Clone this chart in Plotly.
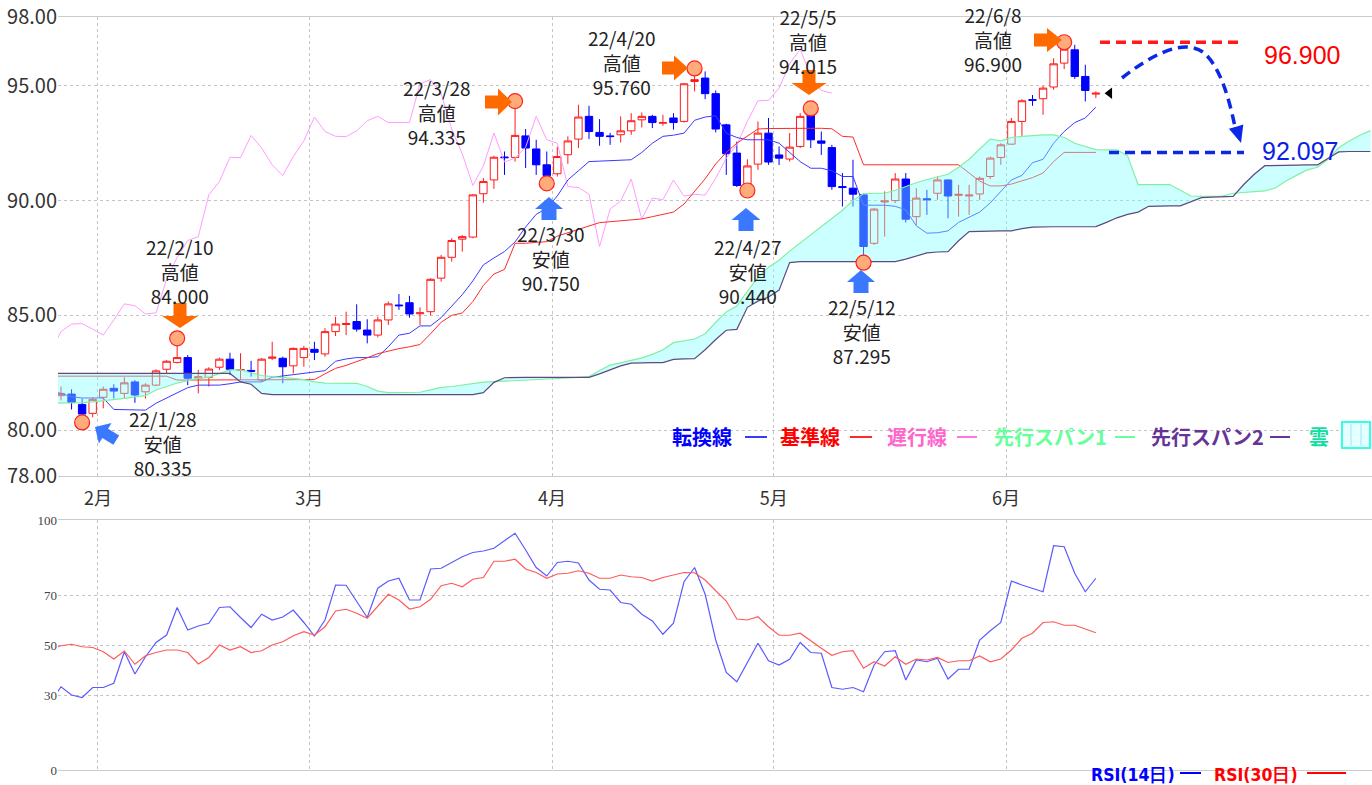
import math
import plotly.graph_objects as go

# ---------------- data ----------------
# trading-day index 0 = 2022-01-26 ... 98 = 2022-06-13
day_index = list(range(0, 99))

opens = [81.50, 81.57, 81.12, 80.73, 81.43, 81.82, 81.60, 82.10, 81.67, 81.96,
         82.65, 82.95, 83.16, 82.27, 82.30, 82.74, 83.09, 82.60, 82.60, 82.18,
         83.13, 83.13, 82.80, 83.16, 83.52, 83.32, 84.29, 84.60, 84.73, 84.36,
         84.14, 84.80, 85.45, 85.55, 85.07, 85.16, 86.62, 87.53, 88.32, 88.41,
         90.30, 90.90, 91.90, 91.88, 92.82, 92.25, 91.56, 91.17, 92.00, 92.68,
         93.67, 92.97, 92.82, 92.87, 93.04, 93.52, 93.67, 93.37, 93.60, 93.45,
         95.19, 95.34, 94.66, 93.30, 92.07, 90.64, 91.59, 92.94, 91.99, 91.81,
         92.36, 93.77, 92.60, 92.31, 90.61, 90.54, 90.25, 88.14, 89.94, 90.00,
         90.94, 89.30, 90.08, 90.32, 90.90, 90.23, 90.20, 90.29, 91.05, 91.88,
         92.46, 93.45, 94.40, 94.44, 94.95, 95.99, 96.57, 95.41, 94.64]
highs = [81.90, 81.78, 81.38, 81.43, 81.90, 82.00, 82.30, 82.18, 82.04, 82.65,
         83.05, 84.00, 83.27, 82.62, 82.74, 83.16, 83.37, 83.35, 83.02, 83.14,
         83.85, 83.20, 83.60, 83.67, 83.85, 84.44, 84.94, 85.16, 85.48, 84.83,
         84.94, 85.60, 85.93, 85.85, 85.35, 86.62, 87.63, 88.36, 88.50, 90.28,
         90.98, 91.95, 92.14, 94.335, 93.12, 92.65, 92.14, 92.35, 92.80, 94.18,
         94.13, 93.55, 92.95, 93.67, 93.81, 93.84, 93.74, 93.74, 93.81, 95.12,
         95.76, 95.63, 94.80, 93.35, 92.57, 91.80, 93.45, 93.60, 92.36, 92.94,
         93.81, 94.015, 93.01, 92.43, 91.20, 91.78, 90.30, 89.67, 90.40, 91.20,
         91.20, 90.54, 90.47, 91.05, 90.92, 90.69, 90.69, 91.05, 91.92, 92.50,
         93.60, 94.42, 94.60, 95.00, 96.20, 96.90, 96.79, 95.92, 94.76]
lows = [81.30, 80.90, 80.335, 80.56, 80.95, 81.38, 81.38, 81.19, 81.38, 81.92,
        82.47, 82.90, 81.96, 81.60, 81.90, 82.62, 82.40, 82.18, 82.33, 82.10,
        83.05, 82.04, 82.47, 82.76, 83.05, 83.20, 84.10, 84.14, 84.29, 83.78,
        84.04, 84.58, 85.24, 84.90, 84.58, 85.00, 86.47, 87.34, 87.78, 88.36,
        89.91, 90.51, 91.12, 91.70, 91.42, 91.12, 90.75, 91.05, 91.60, 92.29,
        92.68, 92.39, 92.43, 92.53, 92.87, 93.19, 93.16, 93.26, 93.09, 93.40,
        94.76, 94.42, 92.97, 91.12, 90.59, 90.44, 91.34, 91.56, 91.55, 91.70,
        92.29, 92.29, 91.99, 90.47, 89.74, 89.74, 87.295, 88.07, 88.43, 89.89,
        89.04, 88.94, 89.38, 90.03, 89.23, 89.30, 89.38, 90.03, 90.94, 91.56,
        92.43, 92.82, 94.13, 93.74, 94.83, 95.73, 95.30, 94.32, 94.47]
closes = [81.60, 81.20, 80.70, 81.34, 81.78, 81.70, 82.06, 81.53, 81.96, 82.58,
          83.00, 83.16, 82.26, 82.32, 82.66, 83.09, 82.65, 82.64, 82.56, 83.09,
          83.18, 82.76, 83.56, 83.56, 83.39, 84.29, 84.62, 84.64, 84.40, 84.14,
          84.80, 85.50, 85.42, 85.06, 85.11, 86.57, 87.53, 88.26, 88.43, 90.25,
          90.83, 91.89, 91.87, 92.84, 92.29, 91.56, 91.09, 91.92, 92.60, 93.64,
          93.01, 92.80, 92.79, 93.04, 93.48, 93.67, 93.40, 93.40, 93.40, 95.09,
          95.27, 94.66, 93.12, 92.04, 90.66, 91.51, 92.94, 91.68, 91.85, 92.33,
          93.67, 92.65, 92.50, 90.61, 90.57, 90.28, 88.00, 89.63, 89.98, 90.94,
          89.19, 90.11, 90.04, 90.90, 90.20, 90.27, 90.24, 90.97, 91.85, 92.43,
          93.45, 94.35, 94.37, 94.90, 95.96, 96.60, 95.41, 94.80, 94.68]

# 転換線 (index -1 .. 98)
tenkan = [81.70, 81.60, 81.45, 81.40, 81.40, 81.40, 80.90, 80.90, 80.87, 80.87,
          81.17, 81.40, 81.60, 81.85, 81.96, 81.96, 81.96, 82.02, 82.10, 82.10,
          82.10, 82.30, 82.36, 82.43, 82.50, 82.53, 82.59, 83.00, 83.10, 83.16,
          83.16, 83.20, 83.63, 84.14, 84.22, 84.54, 84.54, 84.90, 85.40, 85.90,
          86.50, 87.20, 87.50, 87.78, 88.20, 88.85, 89.40, 89.67, 90.20, 90.90,
          91.30, 91.70, 91.72, 91.74, 91.76, 91.78, 92.10, 92.50, 92.80, 92.85,
          92.94, 93.50, 93.64, 93.70, 92.94, 92.75, 92.65, 92.65, 92.65, 92.50,
          92.10, 91.70, 91.41, 91.41, 91.30, 91.05, 91.05, 89.80, 89.80, 89.80,
          89.75, 89.60, 88.90, 88.58, 88.60, 88.68, 89.05, 89.28, 89.50, 89.90,
          90.40, 90.90, 91.10, 91.65, 91.80, 92.50, 93.01, 93.40, 93.60, 94.07]
# 基準線 (index -1 .. 98)
kijun = [82.35, 82.35, 82.35, 82.35, 82.35, 82.35, 82.35, 82.35, 82.35, 82.35,
         82.35, 82.35, 82.18, 82.18, 82.18, 82.18, 82.18, 82.18, 82.18, 82.18,
         82.18, 82.18, 82.18, 82.18, 82.18, 82.20, 82.45, 82.69, 82.82, 82.97,
         83.15, 83.33, 83.45, 83.55, 83.63, 83.73, 84.20, 84.70, 85.00, 85.10,
         85.60, 86.30, 86.80, 87.00, 88.14, 88.14, 88.18, 88.21, 88.45, 88.60,
         88.75, 88.90, 89.04, 89.08, 89.12, 89.16, 89.20, 89.30, 89.40, 89.50,
         89.85, 90.40, 90.95, 91.60, 92.10, 92.50, 92.80, 93.12, 93.14, 93.15,
         93.15, 93.15, 93.15, 93.15, 93.13, 92.80, 92.77, 91.56, 91.56, 91.56,
         91.56, 91.56, 91.56, 91.56, 91.56, 91.56, 91.56, 91.20, 90.85, 90.64,
         90.64, 90.72, 90.85, 91.00, 91.20, 91.70, 92.10, 92.10, 92.10, 92.10]
# 遅行線 (index -1 .. 73)
chikou = [83.39, 84.29, 84.62, 84.64, 84.40, 84.14, 84.80, 85.50, 85.42, 85.06,
          85.11, 86.57, 87.53, 88.26, 88.43, 90.25, 90.83, 91.89, 91.87, 92.84,
          92.29, 91.56, 91.09, 91.92, 92.60, 93.64, 93.01, 92.80, 92.79, 93.04,
          93.48, 93.67, 93.40, 93.40, 93.40, 95.09, 95.27, 94.66, 93.12, 92.04,
          90.66, 91.51, 92.94, 91.68, 91.85, 92.33, 93.67, 92.65, 92.50, 90.61,
          90.57, 90.28, 88.00, 89.63, 89.98, 90.94, 89.19, 90.11, 90.04, 90.90,
          90.20, 90.27, 90.24, 90.97, 91.85, 92.43, 93.45, 94.35, 94.37, 94.90,
          95.96, 96.60, 95.41, 94.80, 94.68]
# 先行スパン1 (index -1 .. 124)
span_a = [81.17, 81.17, 81.18, 81.20, 81.23, 81.27, 81.31, 81.38, 81.45, 81.50,
          81.75, 81.90, 82.05, 82.15, 82.25, 82.30, 82.45, 82.62, 82.62, 82.50,
          82.38, 82.33, 82.30, 82.25, 82.20, 82.10, 82.05, 82.04, 82.04, 82.04,
          81.90, 81.70, 81.63, 81.63, 81.63, 81.65, 81.75, 81.86, 81.90, 81.96,
          82.05, 82.09, 82.11, 82.13, 82.15, 82.16, 82.18, 82.20, 82.23, 82.27,
          82.30, 82.33, 82.60, 82.83, 82.93, 83.03, 83.15, 83.30, 83.50, 83.81,
          83.90, 83.97, 84.20, 84.70, 85.15, 85.41, 86.05, 86.65, 87.10, 87.40,
          87.80, 88.15, 88.50, 88.85, 89.20, 89.58, 90.00, 90.30, 90.32, 90.32,
          90.45, 90.62, 90.78, 90.92, 91.05, 91.15, 91.45, 91.80, 92.25, 92.68,
          92.60, 92.75, 92.80, 92.84, 92.86, 92.86, 92.75, 92.50, 92.35, 92.22,
          92.21, 92.21, 91.95, 90.70, 90.70, 90.70, 90.70, 90.45, 90.20, 90.18,
          90.18, 90.20, 90.32, 90.35, 90.38, 90.42, 90.55, 90.85, 91.10, 91.34,
          91.45, 91.80, 92.30, 92.60, 92.85, 93.05]
# 先行スパン2 (index -1 .. 124)
span_b = [82.47, 82.47, 82.47, 82.47, 82.47, 82.47, 82.47, 82.47, 82.47, 82.47,
          82.47, 82.47, 82.47, 82.47, 82.47, 82.47, 82.47, 82.47, 82.10, 82.00,
          81.60, 81.55, 81.55, 81.55, 81.55, 81.55, 81.55, 81.55, 81.55, 81.55,
          81.55, 81.55, 81.55, 81.55, 81.55, 81.55, 81.55, 81.55, 81.55, 81.55,
          81.55, 81.63, 82.08, 82.28, 82.30, 82.30, 82.30, 82.30, 82.30, 82.30,
          82.30, 82.30, 82.45, 82.62, 82.80, 82.92, 82.94, 82.94, 82.94, 83.08,
          83.10, 83.11, 83.50, 83.95, 84.35, 84.39, 85.35, 85.62, 85.80, 86.10,
          87.30, 87.34, 87.34, 87.34, 87.34, 87.34, 87.34, 87.34, 87.34, 87.34,
          87.34, 87.45, 87.60, 87.72, 87.76, 87.78, 88.25, 88.65, 88.66, 88.68,
          88.68, 88.68, 88.78, 88.84, 88.86, 88.86, 88.86, 88.86, 88.86, 88.87,
          89.05, 89.25, 89.40, 89.50, 89.75, 89.77, 89.77, 89.77, 89.95, 90.13,
          90.15, 90.17, 90.18, 90.70, 91.15, 91.52, 91.54, 91.55, 91.55, 91.56,
          91.56, 91.85, 92.12, 92.14, 92.14, 92.14]
# RSI (index -1 .. 98)
rsi14 = [27.0, 33.3, 30.0, 29.0, 33.0, 33.0, 34.7, 47.3, 38.4, 45.3,
         51.0, 54.0, 65.0, 56.0, 57.6, 58.7, 65.0, 65.3, 61.0, 57.0,
         62.3, 60.0, 61.2, 64.0, 59.0, 53.6, 60.0, 74.0, 73.9, 67.3,
         61.0, 72.7, 75.6, 76.7, 68.0, 68.0, 80.4, 80.7, 83.0, 85.3,
         87.0, 87.6, 88.7, 91.7, 94.7, 88.0, 81.0, 77.6, 83.0, 83.5,
         82.8, 76.0, 72.3, 72.0, 67.0, 66.3, 62.3, 59.6, 54.3, 58.7,
         75.3, 81.0, 70.3, 52.0, 39.0, 35.3, 43.0, 50.7, 43.7, 42.0,
         44.3, 51.0, 47.0, 46.7, 33.0, 32.3, 33.0, 31.3, 42.0, 47.3,
         47.7, 36.0, 44.0, 43.3, 44.7, 36.4, 40.3, 40.3, 52.0, 55.7,
         59.0, 75.6, 74.0, 72.7, 71.3, 89.7, 89.3, 78.7, 71.3, 76.7]
rsi30 = [48.5, 49.7, 50.3, 49.3, 49.0, 47.3, 44.4, 47.6, 42.3, 45.7,
         47.0, 48.0, 48.0, 47.0, 42.4, 45.0, 50.0, 48.0, 49.3, 47.0,
         47.7, 50.0, 51.3, 53.7, 55.3, 54.0, 57.3, 63.6, 64.3, 62.7,
         60.7, 65.6, 70.3, 68.0, 64.4, 65.3, 68.3, 73.7, 74.7, 73.3,
         76.3, 77.0, 83.5, 83.5, 84.3, 80.4, 79.0, 76.7, 78.4, 78.7,
         79.7, 78.7, 76.7, 76.7, 78.0, 77.3, 77.0, 75.6, 77.0, 78.0,
         79.0, 78.9, 76.0, 71.7, 67.6, 60.4, 60.0, 61.3, 57.3, 53.9,
         53.9, 54.7, 51.6, 48.7, 45.9, 47.3, 47.7, 40.7, 43.3, 41.6,
         45.3, 42.3, 44.4, 44.0, 45.0, 43.0, 43.7, 43.7, 45.6, 43.3,
         44.4, 48.0, 52.7, 54.7, 59.0, 59.3, 57.9, 57.9, 56.4, 54.9]

month_ticks = [3.5, 23.5, 46.5, 67.5, 89.5]
month_labels = ["2月", "3月", "4月", "5月", "6月"]
price_ticks = [78, 80, 85, 90, 95, 98]
price_labels = ["78.00", "80.00", "85.00", "90.00", "95.00", "98.00"]
rsi_ticks = [0, 30, 50, 70, 100]

mark_days = [2, 11, 43, 46, 60, 65, 71, 76, 95]
mark_values = [80.335, 84.000, 94.335, 90.750, 95.760, 90.440, 94.015, 87.295, 96.900]
mark_dates = ["22/1/28", "22/2/10", "22/3/28", "22/3/30", "22/4/20",
              "22/4/27", "22/5/5", "22/5/12", "22/6/8"]
mark_kinds = ["安値", "高値", "高値", "安値", "高値", "安値", "高値", "安値", "高値"]
high_level = 96.900
kijun_level = 92.097
last_close = 94.68


def idx_from(start, arr):
    return list(range(start, start + len(arr)))


# ---------------- geometry helpers (decorations only) ----------------
W, H = 1372, 785
PL, PR, PT, PB = 58, 1372, 17, 770
X0, X1 = -0.284, 124.15
MAIN_TOP, MAIN_BOT = 17, 476
RSI_TOP = 520


def px_x(px):
    return X0 + (px - PL) * (X1 - X0) / (PR - PL)


def px_y(py):
    return 98 - (py - MAIN_TOP) * 20 / (MAIN_BOT - MAIN_TOP)


def pap_x(px):
    return (px - PL) / (PR - PL)


def pap_y(py):
    return (PB - py) / (PB - PT)


def block_arrow(tip, d, total, head_len, head_w, shaft_w, color):
    dx, dy = d
    n = math.hypot(dx, dy)
    dx, dy = dx / n, dy / n
    nx, ny = -dy, dx
    tx, ty = tip
    bx, by = tx - dx * head_len, ty - dy * head_len
    ex, ey = tx - dx * total, ty - dy * total
    pts = [(tx, ty),
           (bx + nx * head_w / 2, by + ny * head_w / 2),
           (bx + nx * shaft_w / 2, by + ny * shaft_w / 2),
           (ex + nx * shaft_w / 2, ey + ny * shaft_w / 2),
           (ex - nx * shaft_w / 2, ey - ny * shaft_w / 2),
           (bx - nx * shaft_w / 2, by - ny * shaft_w / 2),
           (bx - nx * head_w / 2, by - ny * head_w / 2)]
    path = "M " + " L ".join(f"{px_x(x):.4f},{px_y(y):.4f}" for x, y in pts) + " Z"
    return dict(type="path", xref="x", yref="y", path=path, fillcolor=color,
                line=dict(width=0), layer="above")


fig = go.Figure()

# candles
fig.add_trace(go.Candlestick(
    x=day_index, open=opens, high=highs, low=lows, close=closes,
    increasing=dict(line=dict(color="#ff1a1a", width=1), fillcolor="#ffffff"),
    decreasing=dict(line=dict(color="#0000ff", width=1), fillcolor="#0000ff"),
    whiskerwidth=0, showlegend=False, hoverinfo="skip", xaxis="x", yaxis="y"))

# ichimoku lines
fig.add_trace(go.Scatter(x=idx_from(-1, chikou), y=chikou, mode="lines",
                         line=dict(color="#ff9cff", width=1), hoverinfo="skip"))
fig.add_trace(go.Scatter(x=idx_from(-1, tenkan), y=tenkan, mode="lines",
                         line=dict(color="#3a3aff", width=1), hoverinfo="skip"))
fig.add_trace(go.Scatter(x=idx_from(-1, kijun), y=kijun, mode="lines",
                         line=dict(color="#ff2a2a", width=1), hoverinfo="skip"))
# cloud
fig.add_trace(go.Scatter(x=idx_from(-1, span_b), y=span_b, mode="lines",
                         line=dict(width=0, color="rgba(0,0,0,0)"), hoverinfo="skip"))
fig.add_trace(go.Scatter(x=idx_from(-1, span_a), y=span_a, mode="lines",
                         line=dict(width=0, color="rgba(0,0,0,0)"), fill="tonexty",
                         fillcolor="rgba(127,255,255,0.40)", hoverinfo="skip"))
fig.add_trace(go.Scatter(x=idx_from(-1, span_a), y=span_a, mode="lines",
                         line=dict(color="#80f0a0", width=1.2), hoverinfo="skip"))
fig.add_trace(go.Scatter(x=idx_from(-1, span_b), y=span_b, mode="lines",
                         line=dict(color="#5c4a80", width=1.2), hoverinfo="skip"))

# high / low markers
fig.add_trace(go.Scatter(x=mark_days, y=mark_values, mode="markers",
                         marker=dict(size=15, color="#ffab7a",
                                     line=dict(color="#ff2020", width=1.2)),
                         hoverinfo="skip"))
# last price pointer
fig.add_trace(go.Scatter(x=[day_index[-1] + 1.3], y=[last_close], mode="markers",
                         marker=dict(symbol="triangle-left", size=10, color="#000000"),
                         hoverinfo="skip"))

# RSI
fig.add_trace(go.Scatter(x=idx_from(-1, rsi14), y=rsi14, mode="lines",
                         line=dict(color="#5a5aff", width=1.2), xaxis="x2", yaxis="y2",
                         hoverinfo="skip"))
fig.add_trace(go.Scatter(x=idx_from(-1, rsi30), y=rsi30, mode="lines",
                         line=dict(color="#ff5a5a", width=1.2), xaxis="x2", yaxis="y2",
                         hoverinfo="skip"))

grid = "#c4c4c4"
axis_line = "#cccccc"
main_dom = [pap_y(MAIN_BOT), 1.0]
rsi_dom = [0.0, pap_y(RSI_TOP)]

fig.update_layout(
    width=W, height=H, margin=dict(l=PL, r=W - PR, t=PT, b=H - PB),
    paper_bgcolor="white", plot_bgcolor="white", showlegend=False,
    font=dict(family="Noto Sans CJK JP", color="#333333"),
    boxgap=0.3, boxgroupgap=0.0,
    xaxis=dict(domain=[0, 1], range=[X0, X1], tickvals=month_ticks, ticktext=month_labels,
               showgrid=True, gridcolor=grid, griddash="dot", gridwidth=1,
               showline=True, linecolor=axis_line, mirror=True, zeroline=False,
               rangeslider=dict(visible=False), ticks="outside", ticklen=6,
               tickcolor="rgba(0,0,0,0)", tickfont=dict(size=18, color="#333333"),
               anchor="y"),
    yaxis=dict(domain=main_dom, range=[78, 98], tickvals=price_ticks, ticktext=price_labels,
               showgrid=True, gridcolor=grid, griddash="dot", zeroline=False,
               showline=False, tickfont=dict(size=20, color="#333333"), anchor="x"),
    xaxis2=dict(domain=[0, 1], range=[X0, X1], tickvals=month_ticks, showticklabels=False,
                showgrid=True, gridcolor=grid, griddash="dot", showline=True,
                linecolor=axis_line, mirror=True, zeroline=False, anchor="y2"),
    yaxis2=dict(domain=rsi_dom, range=[0, 100], tickvals=rsi_ticks,
                showgrid=True, gridcolor=grid, griddash="dot", zeroline=False,
                tickfont=dict(family="Liberation Sans Narrow", size=13, color="#444444"),
                anchor="x2"),
)

annotations = []
shapes = []

# labels for highs / lows
label_pos = [(163, 443), (180, 271), (437, 112), (551, 258), (622, 62),
             (748, 271), (808, 41), (862, 331), (993, 39)]
for (lx, ly), d, k, v in zip(label_pos, mark_dates, mark_kinds, mark_values):
    annotations.append(dict(xref="paper", yref="paper", x=pap_x(lx), y=pap_y(ly),
                            text=f"{d}<br>{k}<br>{v:.3f}", showarrow=False,
                            xanchor="center", yanchor="middle",
                            font=dict(size=19, color="#222222", family="Noto Sans CJK JP")))

ORANGE = "#ff6a00"
BLUE = "#3a78ff"
shapes += [
    block_arrow((95, 427), (-21, -13), 25, 12, 24, 11, BLUE),
    block_arrow((180, 328), (0, 1), 25, 12, 36, 13, ORANGE),
    block_arrow((512, 102), (1, 0), 27, 14, 27, 13, ORANGE),
    block_arrow((549, 197), (0, -1), 23, 12, 28, 15, BLUE),
    block_arrow((688, 68), (1, 0), 26, 14, 25, 13, ORANGE),
    block_arrow((746, 208), (0, -1), 23, 12, 29, 15, BLUE),
    block_arrow((809, 95), (0, 1), 25, 12, 35, 13, ORANGE),
    block_arrow((861, 270), (0, -1), 23, 12, 28, 15, BLUE),
    block_arrow((1062, 40), (1, 0), 28, 15, 24, 13, ORANGE),
]

# level lines and projection arrow
shapes.append(dict(type="line", xref="x", yref="y", x0=px_x(1100), x1=px_x(1238),
                   y0=high_level, y1=high_level,
                   line=dict(color="#ff1a1a", width=3.5, dash="10px,6px")))
shapes.append(dict(type="line", xref="x", yref="y", x0=px_x(1109), x1=px_x(1244),
                   y0=kijun_level, y1=kijun_level,
                   line=dict(color="#0a28e6", width=3.5, dash="10px,6px")))


def P(px, py):
    return f"{px_x(px):.4f},{px_y(py):.4f}"


curve = (f"M {P(1122, 78)} C {P(1150, 56)} {P(1182, 38)} {P(1203, 52)} "
         f"C {P(1220, 66)} {P(1229, 98)} {P(1235, 127)}")
shapes.append(dict(type="path", xref="x", yref="y", path=curve,
                   line=dict(color="#0a28e6", width=3.5, dash="10px,6px")))
shapes.append(block_arrow((1241, 143), (0.3, 1), 17, 17, 15, 0.1, "#0a28e6"))

annotations.append(dict(xref="paper", yref="paper", x=pap_x(1302), y=pap_y(55),
                        text="96.900", showarrow=False, xanchor="center", yanchor="middle",
                        font=dict(size=25, color="#ff0000", family="Liberation Sans")))
annotations.append(dict(xref="paper", yref="paper", x=pap_x(1300), y=pap_y(151),
                        text="92.097", showarrow=False, xanchor="center", yanchor="middle",
                        font=dict(size=25, color="#0a1ee6", family="Liberation Sans")))

# main legend
legend_items = [
    ("転換線", "#0000ff", 670, "#3a3aff", 745, 767),
    ("基準線", "#ff0000", 778, "#ff2a2a", 850, 872),
    ("遅行線", "#ff66cc", 885, "#ff77dd", 957, 977),
    ("先行スパン1", "#66ff99", 992, "#66ff99", 1115, 1135),
    ("先行スパン2", "#663399", 1149, "#663399", 1270, 1290),
]
LEG_Y = 437
for txt, col, tx, lcol, l0, l1 in legend_items:
    annotations.append(dict(xref="paper", yref="paper", x=pap_x(tx), y=pap_y(LEG_Y),
                            text=f"<b>{txt}</b>", showarrow=False, xanchor="left",
                            yanchor="middle",
                            font=dict(size=20, color=col, family="Noto Sans CJK JP")))
    shapes.append(dict(type="line", xref="paper", yref="paper", x0=pap_x(l0), x1=pap_x(l1),
                       y0=pap_y(LEG_Y), y1=pap_y(LEG_Y), line=dict(color=lcol, width=2)))
annotations.append(dict(xref="paper", yref="paper", x=pap_x(1307), y=pap_y(LEG_Y),
                        text="<b>雲</b>", showarrow=False, xanchor="left", yanchor="middle",
                        font=dict(size=20, color="#11e0a0", family="Noto Sans CJK JP")))
shapes.append(dict(type="rect", xref="paper", yref="paper", x0=pap_x(1342), x1=pap_x(1370),
                   y0=pap_y(448), y1=pap_y(422), fillcolor="#e6ffff",
                   line=dict(color="#33ffe6", width=2)))
for vx in (1351, 1361):
    shapes.append(dict(type="line", xref="paper", yref="paper", x0=pap_x(vx), x1=pap_x(vx),
                       y0=pap_y(446), y1=pap_y(424), line=dict(color="#c0f2ff", width=2)))

# RSI legend
RSI_Y = 775
annotations.append(dict(xref="paper", yref="paper", x=pap_x(1089), y=pap_y(RSI_Y),
                        text="<b>RSI(14日)</b>", showarrow=False, xanchor="left",
                        yanchor="middle",
                        font=dict(size=17.5, color="#0000ff",
                                  family="DejaVu Sans Condensed, DejaVu Sans")))
shapes.append(dict(type="line", xref="paper", yref="paper", x0=pap_x(1180), x1=pap_x(1201),
                   y0=pap_y(RSI_Y - 2), y1=pap_y(RSI_Y - 2), line=dict(color="#0000ff", width=2)))
annotations.append(dict(xref="paper", yref="paper", x=pap_x(1212), y=pap_y(RSI_Y),
                        text="<b>RSI(30日)</b>", showarrow=False, xanchor="left",
                        yanchor="middle",
                        font=dict(size=17.5, color="#ff0000",
                                  family="DejaVu Sans Condensed, DejaVu Sans")))
shapes.append(dict(type="line", xref="paper", yref="paper", x0=pap_x(1307), x1=pap_x(1346),
                   y0=pap_y(RSI_Y - 2), y1=pap_y(RSI_Y - 2), line=dict(color="#ff0000", width=2)))

fig.update_layout(annotations=annotations, shapes=shapes)
fig.write_html("out.html",
               config={"displayModeBar": False},
               post_script="document.body.style.margin='0px';"
                           "document.body.style.padding='0px';"
                           "document.body.style.overflow='hidden';")
